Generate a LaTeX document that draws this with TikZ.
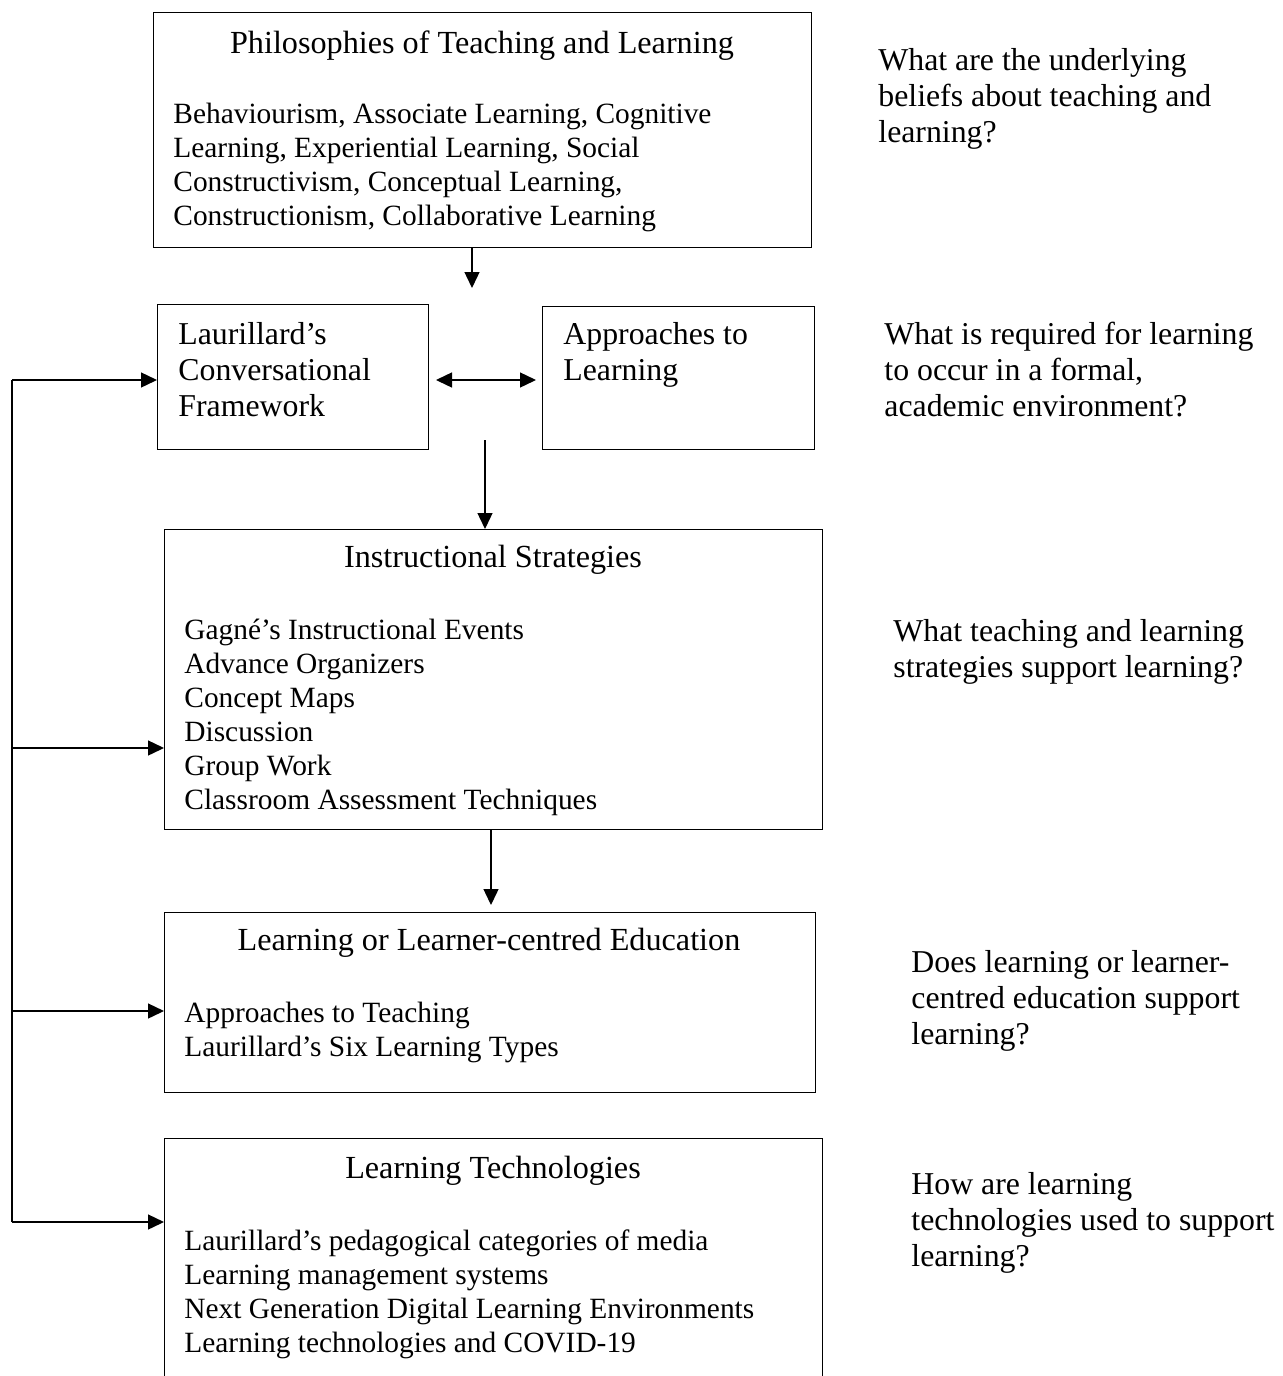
\documentclass[tikz,border=0pt]{standalone}
\usepackage{fontspec}
\setmainfont{Liberation Serif}
\usetikzlibrary{arrows.meta}
\tikzset{
  box/.style={draw, line width=0.7pt, rectangle, anchor=north west, inner sep=0pt},
  txt/.style={anchor=north west, inner sep=0pt, align=left, font=\fontsize{14.7}{17}\selectfont},
  big/.style={anchor=north west, inner sep=0pt, align=left, font=\fontsize{15.9}{18}\selectfont},
  title/.style={anchor=north, inner sep=0pt, font=\fontsize{16.1}{18}\selectfont},
  tip/.style={Triangle[length=8pt,width=7.5pt]},
  conn/.style={line width=0.7pt, -{Triangle[length=8pt,width=7.5pt]}},
  dconn/.style={line width=0.7pt, {Triangle[length=8pt,width=7.5pt]}-{Triangle[length=8pt,width=7.5pt]}},
}
\begin{document}
\begin{tikzpicture}[x=0.5pt, y=-0.5pt]
\useasboundingbox (0,0) rectangle (1282,1376);

% boxes
\node[box, minimum width=329pt, minimum height=117.5pt] (phil) at (153,12) {};
\node[box, minimum width=135.5pt, minimum height=72.5pt] (laur) at (157,304) {};
\node[box, minimum width=136pt, minimum height=71.5pt] (appr) at (542,306) {};
\node[box, minimum width=329pt, minimum height=150pt] (inst) at (164,529) {};
\node[box, minimum width=325.5pt, minimum height=90pt] (lce) at (164,912) {};
\node[box, minimum width=329pt, minimum height=130pt] (tech) at (164,1138) {};

% box contents
\node[title] (philT) at (482,30) {Philosophies of Teaching and Learning};
\node[txt] (philB) at (173,103) {Behaviourism, Associate Learning, Cognitive\\Learning, Experiential Learning, Social\\Constructivism, Conceptual Learning,\\Constructionism, Collaborative Learning};
\node[big] (laurT) at (178,322) {Laurillard’s\\Conversational\\Framework};
\node[big] (apprT) at (563,322) {Approaches to\\Learning};
\node[title] (instT) at (493,545) {Instructional Strategies};
\node[txt] (instB) at (184,619) {Gagné’s Instructional Events\\Advance Organizers\\Concept Maps\\Discussion\\Group Work\\Classroom Assessment Techniques};
\node[title] (lceT) at (489,928) {Learning or Learner-centred Education};
\node[txt] (lceB) at (184,1002) {Approaches to Teaching\\Laurillard’s Six Learning Types};
\node[title] (techT) at (493,1156) {Learning Technologies};
\node[txt] (techB) at (184,1229) {Laurillard’s pedagogical categories of media\\Learning management systems\\Next Generation Digital Learning Environments\\Learning technologies and COVID-19};

% guiding questions
\node[big] (q1) at (878,48) {What are the underlying\\beliefs about teaching and\\learning?};
\node[big] (q2) at (884,322) {What is required for learning\\to occur in a formal,\\academic environment?};
\node[big] (q3) at (893,619) {What teaching and learning\\strategies support learning?};
\node[big] (q4) at (911,950) {Does learning or learner-\\centred education support\\learning?};
\node[big] (q5) at (911,1172) {How are learning\\technologies used to support\\learning?};

% connectors
\coordinate (a1) at (472,288);
\draw[conn] (phil.south -| a1) -- (a1);
\coordinate (dl) at (436,380);
\coordinate (dr) at (536,380);
\draw[dconn] (dl) -- (dr);
\coordinate (s2) at (485,440);
\draw[conn] (s2) -- (s2 |- inst.north);
\coordinate (s3) at (491,829);
\coordinate (e3) at (491,905);
\draw[conn] (s3) -- (e3);

% feedback spine on the left
\coordinate (top) at (12,380);
\coordinate (mid1) at (12,748);
\coordinate (mid2) at (12,1011);
\coordinate (bot) at (12,1222);
\draw[line width=0.7pt] (bot) -- (top);
\draw[conn] (top) -- (top -| laur.west);
\draw[conn] (mid1) -- (mid1 -| inst.west);
\draw[conn] (mid2) -- (mid2 -| lce.west);
\draw[conn] (bot) -- (bot -| tech.west);
\end{tikzpicture}
\end{document}
